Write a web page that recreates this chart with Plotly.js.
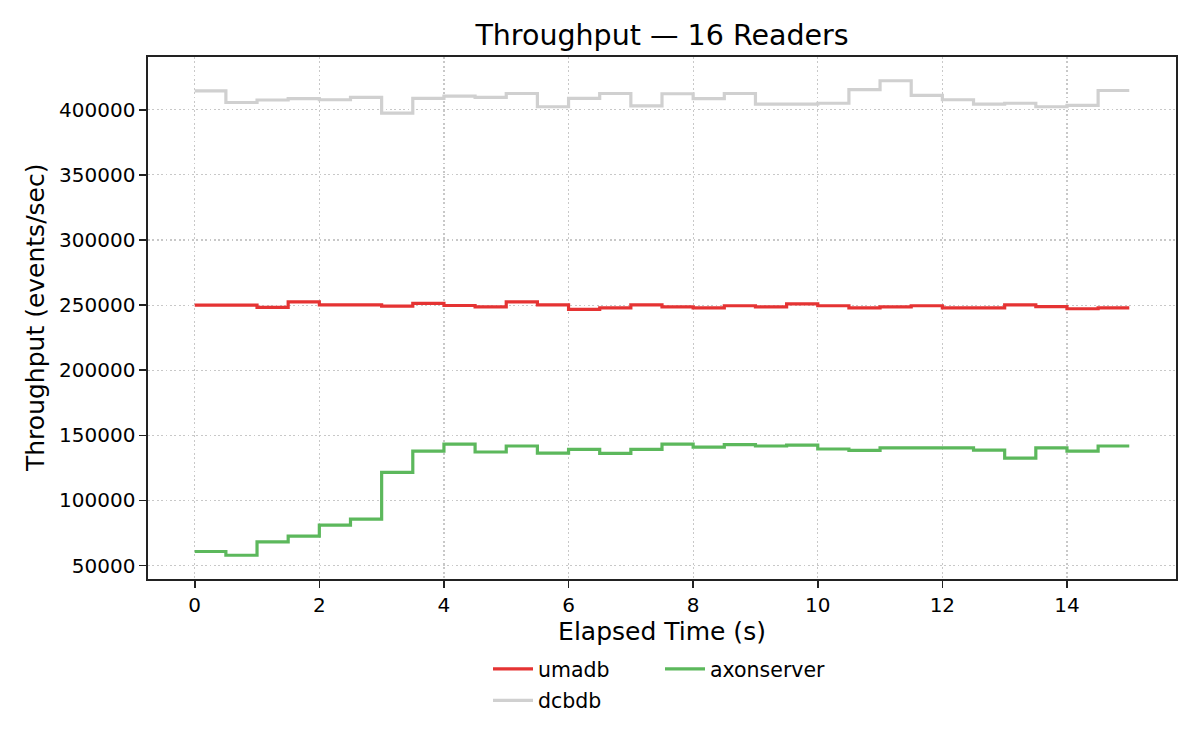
<!DOCTYPE html>
<html>
<head>
<meta charset="utf-8">
<script src="https://cdn.plot.ly/plotly-3.0.1.min.js"></script>
<style>html,body{margin:0;padding:0;background:#fff;}#chart{width:1200px;height:750px;}</style>
</head>
<body>
<div id="chart"></div>
<script>
const elapsed = [0,0.5,1,1.5,2,2.5,3,3.5,4,4.5,5,5.5,6,6.5,7,7.5,8,8.5,9,9.5,10,10.5,11,11.5,12,12.5,13,13.5,14,14.5,15];
const umadb = [250000,250000,248200,252500,250200,250200,249200,251300,249700,248700,252500,250200,246700,247900,250200,248700,247900,249500,248700,251000,249500,247900,248700,249500,247900,247900,250200,248900,247200,247900,247900];
const dcbdb = [414500,405600,407500,408500,407700,409500,397400,408700,410500,409500,412500,402300,408700,412500,403000,412300,408500,412500,404400,404400,405000,415400,422300,411000,407700,404400,405000,402300,403300,414800,414800];
const axonserver = [60800,57900,68200,72600,81000,85600,121500,137900,143300,137200,141800,136400,139200,136200,139200,143300,141000,142800,141800,142500,139500,138500,140300,140300,140300,138700,132500,140300,137900,141800,141800];
const xTicks = [0,2,4,6,8,10,12,14];
const yTicks = [50000,100000,150000,200000,250000,300000,350000,400000];
const yTitle = 'Throughput (events/sec)';

const font = "DejaVu Sans, sans-serif";
function pad(arr){ const lo=Math.min(...arr), hi=Math.max(...arr), m=(hi-lo)*0.05; return [lo-m, hi+m]; }
const allY = umadb.concat(dcbdb, axonserver);

const traces = [
  {x: elapsed, y: umadb, name: 'umadb', legend: 'legend', legendgroup: 'a', mode: 'lines', line: {shape: 'hv', color: '#e53333', width: 3.2}},
  {x: elapsed, y: dcbdb, name: 'dcbdb', legend: 'legend', legendgroup: 'b', mode: 'lines', line: {shape: 'hv', color: '#d0d0d0', width: 3.2}},
  {x: elapsed, y: axonserver, name: 'axonserver', legend: 'legend2', mode: 'lines', line: {shape: 'hv', color: '#5cb85c', width: 3.2}}
];

const axisCommon = {
  showline: true, mirror: true, linecolor: '#222', linewidth: 1.6,
  ticks: 'outside', ticklen: 7, tickwidth: 1.6, tickcolor: '#222',
  showgrid: true, gridcolor: '#c8c8c8', griddash: '1.7px,2.7px', gridwidth: 1.2,
  zeroline: false, automargin: true, tickfont: {family: font, size: 20, color: '#000'}
};

const legendCommon = {
  orientation: 'v', xref: 'container', yref: 'container', xanchor: 'left', yanchor: 'top',
  itemwidth: 40, tracegroupgap: 2,
  font: {family: font, size: 20.5, color: '#000'}, bgcolor: 'rgba(0,0,0,0)', borderwidth: 0
};

const layout = {
  width: 1200, height: 750,
  paper_bgcolor: '#fff', plot_bgcolor: '#fff',
  font: {family: font, color: '#000'},
  margin: {l: 148, r: 24, t: 57, b: 171, autoexpand: false},
  title: {text: 'Throughput — 16 Readers', font: {family: font, size: 28.5, color: '#000'}, xref: 'paper', x: 0.5, xanchor: 'center', yref: 'container', y: 0.953, yanchor: 'middle'},
  xaxis: Object.assign({}, axisCommon, {
    range: pad(elapsed), tickvals: xTicks, ticktext: xTicks.map(String),
    title: {text: 'Elapsed Time (s)', font: {family: font, size: 25, color: '#000'}, standoff: 6}
  }),
  yaxis: Object.assign({}, axisCommon, {
    range: pad(allY), tickvals: yTicks, ticktext: yTicks.map(String)
  }),
  annotations: [{
    text: yTitle, textangle: -90, showarrow: false,
    xref: 'paper', x: (35 - 148) / 1028, xanchor: 'center',
    yref: 'paper', y: 0.5, yanchor: 'middle',
    font: {family: font, size: 25, color: '#000'}
  }],
  showlegend: true,
  legend: Object.assign({}, legendCommon, {x: 488/1200, y: 1 - 649/750}),
  legend2: Object.assign({}, legendCommon, {x: 660/1200, y: 1 - 649/750})
};

Plotly.newPlot('chart', traces, layout, {displayModeBar: false, staticPlot: true});
</script>
</body>
</html>
